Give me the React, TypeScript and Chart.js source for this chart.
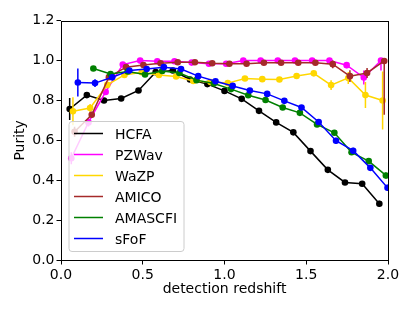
import React, { useEffect, useRef } from 'react';
import { Chart, registerables } from 'chart.js';

Chart.register(...registerables);

// bin centres in detection redshift (19 bins over 0-2)
const redshiftBins = [0.053, 0.158, 0.263, 0.368, 0.474, 0.579, 0.684, 0.789, 0.895, 1.0, 1.105, 1.211, 1.316, 1.421, 1.526, 1.632, 1.737, 1.842, 1.947];

const seriesNames = ['HCFA', 'PZWav', 'WaZP', 'AMICO', 'AMASCFI', 'sFoF'];
const seriesColors = ['#000000', '#ff00ff', '#ffd700', '#a52a2a', '#008000', '#0000ff'];
// small horizontal dodge per finder
const xOffsets = [0, 0.01, 0.02, 0.03, 0.04, 0.05];

const hcfa = [0.757, 0.827, 0.80, 0.81, 0.85, 0.942, 0.95, 0.905, 0.882, 0.848, 0.808, 0.748, 0.69, 0.64, 0.546, 0.452, 0.389, 0.382, 0.282];
const hcfaErr = [0.055, 0.01, 0.008, 0.008, 0.008, 0.006, 0.006, 0.006, 0.006, 0.006, 0.006, 0.008, 0.008, 0.008, 0.008, 0.01, 0.01, 0.012, 0.015];

const pzwav = [0.51, 0.69, 0.843, 0.98, 1.0, 0.997, 0.997, 0.99, 0.984, 0.984, 1.0, 1.0, 1.0, 1.0, 1.0, 1.0, 0.977, 0.915, 1.0];
const pzwavErr = [0.03, 0.02, 0.01, 0.006, 0.003, 0.003, 0.003, 0.005, 0.005, 0.005, 0.003, 0.003, 0.003, 0.003, 0.003, 0.005, 0.015, 0.035, 0.05];

const wazp = [0.746, 0.762, 0.878, 0.928, 0.942, 0.928, 0.92, 0.898, 0.892, 0.887, 0.91, 0.907, 0.905, 0.923, 0.936, 0.877, 0.913, 0.827, 0.80];
const wazpErr = [0.07, 0.02, 0.01, 0.008, 0.006, 0.006, 0.006, 0.006, 0.006, 0.006, 0.006, 0.008, 0.008, 0.01, 0.01, 0.025, 0.03, 0.065, 0.145];

const amico = [0.643, 0.728, 0.917, 0.967, 0.978, 0.987, 0.992, 0.992, 0.987, 0.984, 0.984, 0.989, 0.989, 0.989, 0.989, 0.982, 0.922, 0.938, 0.998];
const amicoErr = [0.025, 0.015, 0.008, 0.005, 0.004, 0.003, 0.003, 0.003, 0.003, 0.003, 0.003, 0.003, 0.003, 0.004, 0.005, 0.02, 0.03, 0.025, 0.27];

const amascfi = [null, 0.96, 0.933, 0.945, 0.93, 0.948, 0.938, 0.902, 0.885, 0.857, 0.826, 0.802, 0.765, 0.738, 0.68, 0.638, 0.54, 0.496, 0.424];
const amascfiErr = [0, 0.01, 0.008, 0.006, 0.006, 0.006, 0.006, 0.006, 0.006, 0.006, 0.006, 0.006, 0.008, 0.008, 0.01, 0.01, 0.012, 0.012, 0.015];

const sfof = [0.89, 0.887, 0.916, 0.95, 0.958, 0.967, 0.958, 0.922, 0.896, 0.873, 0.85, 0.833, 0.798, 0.765, 0.692, 0.598, 0.548, 0.462, 0.362];
const sfofErr = [0.07, 0.02, 0.01, 0.008, 0.006, 0.006, 0.006, 0.006, 0.006, 0.006, 0.006, 0.008, 0.008, 0.01, 0.01, 0.015, 0.015, 0.015, 0.015];

const xTickValues = [0, 0.5, 1.0, 1.5, 2.0];
const yTickValues = [0, 0.2, 0.4, 0.6, 0.8, 1.0, 1.2];

const seriesValues = [hcfa, pzwav, wazp, amico, amascfi, sfof];
const seriesErrors = [hcfaErr, pzwavErr, wazpErr, amicoErr, amascfiErr, sfofErr];

const FONT = 'DejaVu Sans';

const errorBarPlugin = {
  id: 'errorBars',
  beforeDatasetDraw(chart: any, args: any) {
    const ds = chart.data.datasets[args.index];
    const { ctx, chartArea: a } = chart;
    const xs = chart.scales.x;
    const ys = chart.scales.y;
    ctx.save();
    ctx.beginPath();
    ctx.rect(a.left, a.top, a.right - a.left, a.bottom - a.top);
    ctx.clip();
    ctx.strokeStyle = ds.borderColor;
    ctx.lineWidth = 1.5;
    ds.data.forEach((p: any) => {
      const px = xs.getPixelForValue(p.x);
      const top = ys.getPixelForValue(Math.min(1, p.y + p.err));
      const bot = ys.getPixelForValue(p.y - p.err);
      ctx.beginPath();
      ctx.moveTo(px, top);
      ctx.lineTo(px, bot);
      ctx.stroke();
    });
    ctx.restore();
  },
};

const framePlugin = {
  id: 'frameAndLegend',
  afterDatasetsDraw(chart: any) {
    const { ctx, chartArea: a } = chart;
    ctx.save();
    ctx.strokeStyle = '#000';
    ctx.lineWidth = 1;
    ctx.strokeRect(Math.round(a.left) + 0.5, Math.round(a.top) + 0.5, Math.round(a.right - a.left), Math.round(a.bottom - a.top));

    // legend box (matplotlib-like, semi-transparent)
    const bx = 69, by = 121.5, bw = 115, bh = 130, r = 3;
    ctx.beginPath();
    ctx.moveTo(bx + r, by);
    ctx.lineTo(bx + bw - r, by);
    ctx.arcTo(bx + bw, by, bx + bw, by + r, r);
    ctx.lineTo(bx + bw, by + bh - r);
    ctx.arcTo(bx + bw, by + bh, bx + bw - r, by + bh, r);
    ctx.lineTo(bx + r, by + bh);
    ctx.arcTo(bx, by + bh, bx, by + bh - r, r);
    ctx.lineTo(bx, by + r);
    ctx.arcTo(bx, by, bx + r, by, r);
    ctx.closePath();
    ctx.fillStyle = 'rgba(255,255,255,0.8)';
    ctx.fill();
    ctx.strokeStyle = '#cccccc';
    ctx.lineWidth = 1;
    ctx.stroke();

    ctx.font = `14px "${FONT}"`;
    ctx.textAlign = 'left';
    ctx.textBaseline = 'alphabetic';
    chart.data.datasets.forEach((ds: any, i: number) => {
      const cy = 133.5 + i * 21;
      ctx.strokeStyle = ds.borderColor;
      ctx.lineWidth = 1.5;
      ctx.beginPath();
      ctx.moveTo(74, cy);
      ctx.lineTo(103, cy);
      ctx.stroke();
      ctx.fillStyle = '#000';
      ctx.fillText(ds.label, 115, cy + 5.2);
    });
    ctx.restore();
  },
};

export default function App() {
  const ref = useRef<HTMLCanvasElement | null>(null);

  useEffect(() => {
    if (!ref.current) return;
    const datasets = seriesNames.map((name, i) => {
      const pts: any[] = [];
      seriesValues[i].forEach((v, k) => {
        if (v !== null && v !== undefined) {
          pts.push({ x: redshiftBins[k] + xOffsets[i], y: v, err: seriesErrors[i][k] });
        }
      });
      return {
        label: name,
        data: pts,
        borderColor: seriesColors[i],
        backgroundColor: seriesColors[i],
        pointBackgroundColor: seriesColors[i],
        pointBorderColor: seriesColors[i],
        pointRadius: 3.3,
        pointBorderWidth: 0,
        borderWidth: 1.5,
        tension: 0,
        clip: 0,
        order: seriesNames.length - i,
      };
    });

    const chart = new Chart(ref.current, {
      type: 'line',
      data: { datasets },
      plugins: [errorBarPlugin, framePlugin],
      options: {
        animation: false,
        responsive: false,
        devicePixelRatio: 1,
        layout: { padding: { top: 20.7, right: 27, left: 0, bottom: 0 } },
        plugins: { legend: { display: false }, tooltip: { enabled: false } },
        scales: {
          x: {
            type: 'linear',
            min: 0,
            max: 2,
            afterFit: (s: any) => { s.height = 51; },
            afterBuildTicks: (s: any) => { s.ticks = xTickValues.map((v) => ({ value: v })); },
            ticks: {
              color: '#000',
              padding: 2,
              font: { family: FONT, size: 14 },
              callback: (v: any) => Number(v).toFixed(1),
              maxRotation: 0,
            },
            grid: { drawOnChartArea: false, drawTicks: true, tickLength: 4.5, tickColor: '#000', lineWidth: 1 },
            border: { display: false },
            title: { display: true, text: 'detection redshift', color: '#000', font: { family: FONT, size: 14 }, padding: { top: 0, bottom: 13.6 } },
          },
          y: {
            type: 'linear',
            min: 0,
            max: 1.2,
            afterFit: (s: any) => { s.width = 61; },
            afterBuildTicks: (s: any) => { s.ticks = yTickValues.map((v) => ({ value: v })); },
            ticks: {
              color: '#000',
              padding: 2,
              font: { family: FONT, size: 14 },
              callback: (v: any) => Number(v).toFixed(1),
            },
            grid: { drawOnChartArea: false, drawTicks: true, tickLength: 4.5, tickColor: '#000', lineWidth: 1 },
            border: { display: false },
            title: { display: true, text: 'Purity', color: '#000', font: { family: FONT, size: 14 }, padding: { top: 11.6, bottom: 0 } },
          },
        },
      },
    } as any);
    return () => chart.destroy();
  }, []);

  return (
    <div style={{ position: 'absolute', left: 0, top: 0, width: 415, height: 311, background: '#fff' }}>
      <canvas ref={ref} width={415} height={311} style={{ display: 'block' }} />
    </div>
  );
}
